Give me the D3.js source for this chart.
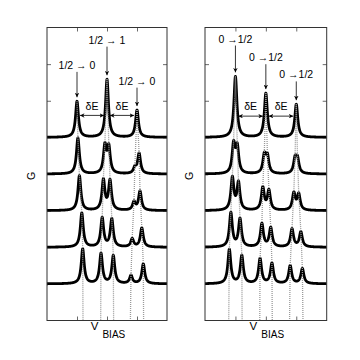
<!DOCTYPE html>
<html><head><meta charset="utf-8">
<script src="https://cdn.jsdelivr.net/npm/d3@7"></script>
<style>
html,body{margin:0;padding:0;background:#fff;}
svg{display:block;font-family:"Liberation Sans",Arial,sans-serif;}
</style></head>
<body><svg id="c" width="360" height="360"></svg>
<script>
// ---- data ----
const X_TICKS = [1, 2, 3];
const Y_TICKS = [1, 2, 3, 4, 5, 6, 7];
const TRACE_BASES = [5, 4, 3, 2, 1];
const PEAK_WIDTH = 0.058;

const LEFT_POS = [
  [1.00, 2.00, 2.00, 3.00, 3.00],
  [1.03, 1.93, 2.06, 2.93, 3.07],
  [1.08, 1.88, 2.10, 2.90, 3.10],
  [1.16, 1.84, 2.16, 2.84, 3.16],
  [1.19, 1.80, 2.21, 2.80, 3.21]
];
const LEFT_AMP = [
  [0.98, 0.79, 0.79, 0.37, 0.37],
  [0.98, 0.74, 0.70, 0.15, 0.55],
  [0.95, 0.82, 0.80, 0.22, 0.52],
  [0.93, 0.79, 0.76, 0.22, 0.52],
  [0.95, 0.82, 0.76, 0.22, 0.54]
];
const LEFT_BOTTOM = [1.20, 1.79, 2.22, 2.78, 3.22];

const RIGHT_POS = [
  [1.00, 1.00, 2.00, 2.00, 3.00, 3.00],
  [0.94, 1.06, 1.95, 2.05, 2.96, 3.04],
  [0.90, 1.10, 1.90, 2.10, 2.92, 3.08],
  [0.85, 1.15, 1.87, 2.16, 2.86, 3.15],
  [0.80, 1.21, 1.81, 2.20, 2.80, 3.20]
];
const RIGHT_AMP = [
  [0.83, 0.83, 0.60, 0.60, 0.45, 0.45],
  [0.78, 0.70, 0.48, 0.45, 0.38, 0.37],
  [0.88, 0.74, 0.61, 0.53, 0.46, 0.43],
  [0.93, 0.76, 0.63, 0.52, 0.49, 0.41],
  [0.93, 0.76, 0.68, 0.55, 0.49, 0.41]
];
const RIGHT_BOTTOM = [0.78, 1.22, 1.80, 2.21, 2.78, 3.22];

const LEFT_LABELS = ["1/2 \u2192 0", "1/2 \u2192 1", "1/2 \u2192 0"];
const LEFT_LABEL_X = [1, 2, 3];
const LEFT_LABEL_Y = [6.87, 7.56, 6.44];
const RIGHT_LABELS = ["0 \u21921/2", "0 \u21921/2", "0 \u21921/2"];
const RIGHT_LABEL_X = [1, 2, 3];
const RIGHT_LABEL_Y = [7.59, 7.08, 6.61];
const DE_TEXT = "\u03B4E";
const DE_SPANS = [[1, 2], [2, 3]];
const LEFT_DE_Y = [5.76, 5.60];   // text baseline, arrow
const RIGHT_DE_Y = [5.74, 5.58];

// ---- drawing ----
const svg = d3.select("#c");
const defs = svg.append("defs");
defs.append("marker").attr("id", "ah").attr("viewBox", "0 0 10 10")
  .attr("refX", 10).attr("refY", 5).attr("markerWidth", 4.5).attr("markerHeight", 4.5)
  .attr("markerUnits", "userSpaceOnUse").attr("orient", "auto-start-reverse")
  .append("path").attr("d", "M0,0L10,5L0,10L3,5Z").attr("fill", "#000");

function lor(x, pos, amp) {
  let s = 0;
  for (let i = 0; i < pos.length; i++) {
    const d = (x - pos[i]) / PEAK_WIDTH;
    s += amp[i] / (1 + d * d);
  }
  return s;
}

function panel(cfg) {
  const x = d3.scaleLinear().domain([0, 4]).range([cfg.x0, cfg.x1]);
  const y = d3.scaleLinear().domain([0, 8]).range([320.5, 27.5]);
  const g = svg.append("g");
  const clipId = "clip" + cfg.id;
  defs.append("clipPath").attr("id", clipId).append("rect")
    .attr("x", cfg.x0).attr("y", 27.5).attr("width", cfg.x1 - cfg.x0).attr("height", 293);

  // axes (inward ticks)
  const axStyle = sel => { sel.select(".domain").remove();
    sel.selectAll(".tick line").attr("stroke", "#444").attr("stroke-width", 0.8);
    sel.selectAll("text").remove(); };
  g.append("g").attr("transform", `translate(0,${y(0)})`)
    .call(d3.axisBottom(x).tickValues(X_TICKS).tickSize(-4)).call(axStyle);
  g.append("g").attr("transform", `translate(0,${y(8)})`)
    .call(d3.axisTop(x).tickValues(X_TICKS).tickSize(-4)).call(axStyle);
  g.append("g").attr("transform", `translate(${x(0)},0)`)
    .call(d3.axisLeft(y).tickValues(Y_TICKS).tickSize(-4)).call(axStyle);
  g.append("g").attr("transform", `translate(${x(4)},0)`)
    .call(d3.axisRight(y).tickValues(Y_TICKS).tickSize(-4)).call(axStyle);

  // traces
  const xs = d3.range(0, 4.0001, 0.003);
  const line = d3.line().x(d => x(d[0])).y(d => y(d[1]));
  cfg.pos.forEach((p, k) => {
    const pts = xs.map(v => [v, TRACE_BASES[k] + lor(v, p, cfg.amp[k])]);
    g.append("path").attr("d", line(pts)).attr("fill", "none")
      .attr("stroke", "#000").attr("stroke-width", 2.8).attr("stroke-linejoin", "round")
      .attr("clip-path", `url(#${clipId})`);
  });

  // dotted peak tracks
  const nPk = cfg.pos[0].length;
  for (let j = 0; j < nPk; j++) {
    const pts = cfg.pos.map((p, k) => [p[j], TRACE_BASES[k] + lor(p[j], p, cfg.amp[k])]);
    pts.push([cfg.bottom[j], 0]);
    g.append("path").attr("d", line(pts)).attr("fill", "none")
      .attr("stroke", "#9a9a9a").attr("stroke-width", 1.3).attr("stroke-dasharray", "1,1");
  }

  // frame
  g.append("rect").attr("x", x(0)).attr("y", y(8)).attr("width", x(4) - x(0))
    .attr("height", y(0) - y(8)).attr("fill", "none").attr("stroke", "#333").attr("stroke-width", 1);

  // transition labels + arrows
  cfg.labels.forEach((t, i) => {
    const lx = cfg.labelX[i], ly = cfg.labelY[i];
    g.append("text").attr("x", x(lx)).attr("y", y(ly)).attr("text-anchor", "middle")
      .attr("font-size", 10.5).text(t);
    const apex = TRACE_BASES[0] + lor(lx, cfg.pos[0], cfg.amp[0]);
    g.append("line").attr("x1", x(lx)).attr("x2", x(lx))
      .attr("y1", y(ly) + 3).attr("y2", y(apex) - 4)
      .attr("stroke", "#000").attr("stroke-width", 0.8).attr("marker-end", "url(#ah)");
  });

  // delta E
  DE_SPANS.forEach(s => {
    const mid = (s[0] + s[1]) / 2;
    g.append("text").attr("x", x(mid)).attr("y", y(cfg.de[0])).attr("text-anchor", "middle")
      .attr("font-size", 10.5).text(DE_TEXT);
    g.append("line").attr("x1", x(s[0]) + 3).attr("x2", x(s[1]) - 3)
      .attr("y1", y(cfg.de[1])).attr("y2", y(cfg.de[1]))
      .attr("stroke", "#000").attr("stroke-width", 0.8)
      .attr("marker-start", "url(#ah)").attr("marker-end", "url(#ah)");
  });

  // axis titles
  g.append("text").attr("transform", `translate(${cfg.gx},176) rotate(-90)`)
    .attr("text-anchor", "middle").attr("dy", "0.35em").attr("font-size", 10.5).text("G");
  const vt = g.append("text").attr("x", (cfg.x0 + cfg.x1) / 2 + 1).attr("y", 330)
    .attr("text-anchor", "middle").attr("font-size", 11.5);
  vt.append("tspan").text("V");
  vt.append("tspan").attr("dx", 4).attr("dy", 8).attr("font-size", 10).text("BIAS");
}

panel({ id: "L", x0: 47, x1: 167, pos: LEFT_POS, amp: LEFT_AMP, bottom: LEFT_BOTTOM,
  labels: LEFT_LABELS, labelX: LEFT_LABEL_X, labelY: LEFT_LABEL_Y, de: LEFT_DE_Y, gx: 31 });
panel({ id: "R", x0: 205, x1: 326.7, pos: RIGHT_POS, amp: RIGHT_AMP, bottom: RIGHT_BOTTOM,
  labels: RIGHT_LABELS, labelX: RIGHT_LABEL_X, labelY: RIGHT_LABEL_Y, de: RIGHT_DE_Y, gx: 189.5 });
</script></body></html>
